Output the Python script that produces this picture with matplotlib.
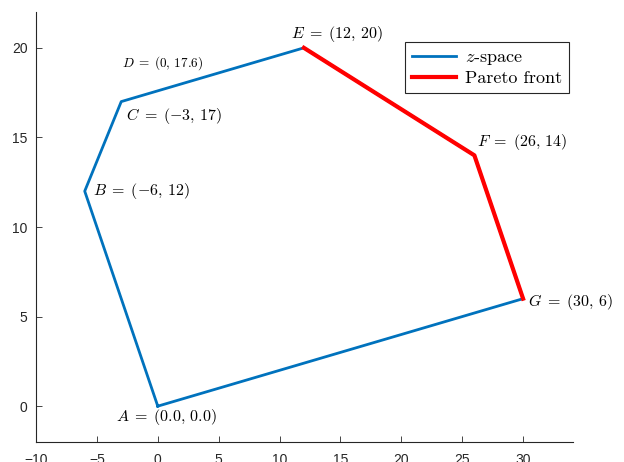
import matplotlib
matplotlib.use("Agg")
import matplotlib.pyplot as plt

# z-space polygon vertices (A, B, C, E, F, G, back to A)
zx = [0, -6, -3, 12, 26, 30, 0]
zy = [0, 12, 17, 20, 14, 6, 0]

# Pareto front (E, F, G)
px = [12, 26, 30]
py = [20, 14, 6]

# point labels: (x, y, text, size)
labels = [
    (-3.4, -0.6, r"$A\;=\;(0.0,\,0.0)$", 11.5),
    (-5.3, 12.0, r"$B\;=\;(-6,\,12)$", 11.5),
    (-2.6, 16.2, r"$C\;=\;(-3,\,17)$", 11.5),
    (-2.95, 19.15, r"$D\;=\;(0,\,17.6)$", 9.5),
    (10.9, 20.8, r"$E\;=\;(12,\,20)$", 11.5),
    (26.2, 14.75, r"$F\;=\;(26,\,14)$", 11.5),
    (30.4, 5.8, r"$G\;=\;(30,\,6)$", 11.5),
]

plt.rcParams["mathtext.fontset"] = "cm"
plt.rcParams["font.family"] = ["Liberation Sans", "DejaVu Sans"]

fig = plt.figure(figsize=(6.24, 4.62), dpi=100)
ax = fig.add_axes([0.0577, 0.0433, 0.8606, 0.9307])

ax.plot(zx, zy, color="#0072BD", linewidth=2.0, label=r"$z$-space")
ax.plot(px, py, color="#FF0000", linewidth=3.0, label="Pareto front")

for x, y, t, s in labels:
    ax.text(x, y, t, fontsize=s, ha="left", va="center")

ax.set_xlim(-10, 34.1)
ax.set_ylim(-2, 22)
ax.set_xticks(range(-10, 31, 5))
ax.set_yticks(range(0, 21, 5))

for side in ["top", "right"]:
    ax.spines[side].set_visible(False)
for side in ["left", "bottom"]:
    ax.spines[side].set_color("#262626")
    ax.spines[side].set_linewidth(0.8)
ax.tick_params(direction="in", length=4, width=0.6, colors="#262626", labelsize=10)
ax.tick_params(axis="x", pad=8)
ax.tick_params(axis="y", pad=6)

leg = ax.legend(loc="upper right", bbox_to_anchor=(0.9926, 0.930), borderaxespad=0,
                fancybox=False, edgecolor="#262626", framealpha=1,
                prop={"family": "cmr10", "size": 13},
                handlelength=2.4, borderpad=0.4, labelspacing=0.2, handletextpad=0.5)
leg.get_frame().set_linewidth(0.8)

fig.savefig("out.png", dpi=100)
